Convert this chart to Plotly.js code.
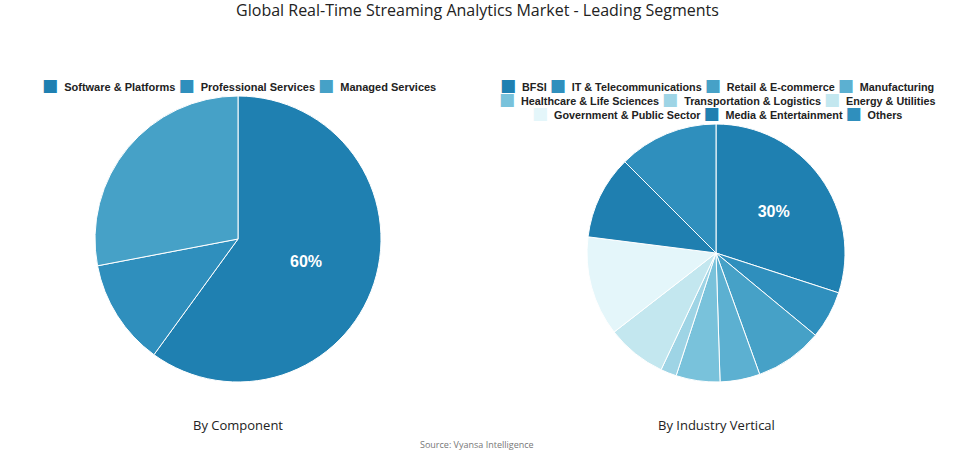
<!DOCTYPE html>
<html><head><meta charset="utf-8">
<script src="https://cdn.plot.ly/plotly-3.0.1.min.js"></script>
<style>html,body{margin:0;padding:0;background:#fff}#chart{width:955px;height:454px}</style>
</head><body><div id="chart"></div>
<script>
// ---- data ----
const componentLabels = ['Software & Platforms', 'Professional Services', 'Managed Services'];
const componentValues = [60, 12, 28];
const componentColors = ['#1f80b1', '#2f8fbd', '#46a1c7'];

const verticalLabels = ['BFSI', 'IT & Telecommunications', 'Retail & E-commerce', 'Manufacturing',
  'Healthcare & Life Sciences', 'Transportation & Logistics', 'Energy & Utilities',
  'Government & Public Sector', 'Media & Entertainment', 'Others'];
const verticalValues = [30, 6, 8.5, 5, 5.5, 2, 7.5, 12.5, 10.5, 12.5];
const verticalColors = ['#1f80b1', '#2f8fbd', '#46a1c7', '#5cb0d1', '#79c2db', '#9ed4e5',
  '#c3e7ef', '#e4f6fa', '#1f7fb0', '#2f8fbd'];

const subtitleLeft = 'By Component';
const subtitleRight = 'By Industry Vertical';
const chartTitle = 'Global Real-Time Streaming Analytics Market - Leading Segments';
const sourceText = 'Source: Vyansa Intelligence';

// legend rows (indices into the label arrays)
const leftLegendRows = [[0, 1, 2]];
const rightLegendRows = [[0, 1, 2, 3], [4, 5, 6], [7, 8, 9]];

// ---- helpers ----
const W = 955, H = 454;
const px = x => x / W;
const py = y => 1 - y / H;
const NB = '\u00a0';

function legendRowText(labels, colors, idx) {
  return idx.map(i =>
    `<span style="color:${colors[i]};font-family:'DejaVu Sans';font-size:17px">■</span>${NB}${NB}${labels[i]}`
  ).join(NB);
}
function labelOnlyFirst(n) {
  return Array.from({length: n}, (_, i) => i === 0 ? '%{percent:.0%}' : '');
}

const pieCommon = {
  type: 'pie', sort: false, direction: 'clockwise', rotation: 0,
  textposition: 'inside', insidetextorientation: 'horizontal',
  textfont: {family: 'Liberation Sans, Arial', size: 16, color: '#ffffff', weight: 'bold'},
  hoverinfo: 'none', showlegend: false
};

const traces = [
  Object.assign({}, pieCommon, {
    labels: componentLabels, values: componentValues,
    marker: {colors: componentColors, line: {color: '#ffffff', width: 1}},
    texttemplate: labelOnlyFirst(componentLabels.length),
    domain: {x: [px(95), px(381)], y: [py(382), py(96)]}
  }),
  Object.assign({}, pieCommon, {
    labels: verticalLabels, values: verticalValues,
    marker: {colors: verticalColors, line: {color: '#ffffff', width: 1}},
    texttemplate: labelOnlyFirst(verticalLabels.length),
    domain: {x: [px(587), px(845)], y: [py(382), py(124)]}
  })
];

const legendFontL = {family: 'Liberation Sans, Arial', size: 11.0, color: '#222222', weight: 'bold'};
const legendFontR = {family: 'Liberation Sans, Arial', size: 10.8, color: '#222222', weight: 'bold'};
const annotations = [];
leftLegendRows.forEach((row, r) => annotations.push({
  xref: 'paper', yref: 'paper', x: px(238.5), y: py(85 + 14 * r), xanchor: 'center', yanchor: 'middle',
  showarrow: false, text: legendRowText(componentLabels, componentColors, row), font: legendFontL
}));
rightLegendRows.forEach((row, r) => annotations.push({
  xref: 'paper', yref: 'paper', x: px(716.5), y: py(85 + 14 * r), xanchor: 'center', yanchor: 'middle',
  showarrow: false, text: legendRowText(verticalLabels, verticalColors, row), font: legendFontR
}));
const subFont = {family: 'Open Sans', size: 13, color: '#222222'};
annotations.push({xref: 'paper', yref: 'paper', x: px(238), y: py(425), xanchor: 'center', yanchor: 'middle',
  showarrow: false, text: subtitleLeft, font: subFont});
annotations.push({xref: 'paper', yref: 'paper', x: px(716), y: py(425), xanchor: 'center', yanchor: 'middle',
  showarrow: false, text: subtitleRight, font: subFont});
annotations.push({xref: 'paper', yref: 'paper', x: px(477), y: py(444), xanchor: 'center', yanchor: 'middle',
  showarrow: false, text: sourceText, font: {family: 'Open Sans', size: 9, color: '#777777'}});

const layout = {
  width: W, height: H,
  margin: {l: 0, r: 0, t: 0, b: 0},
  paper_bgcolor: '#ffffff', plot_bgcolor: '#ffffff',
  title: {text: chartTitle, x: 0.5, xanchor: 'center', y: py(5), yanchor: 'top',
    font: {family: 'Open Sans', size: 16, color: '#222222'}},
  showlegend: false,
  annotations: annotations
};

Plotly.newPlot('chart', traces, layout, {displayModeBar: false, staticPlot: true});
</script>
</body></html>
